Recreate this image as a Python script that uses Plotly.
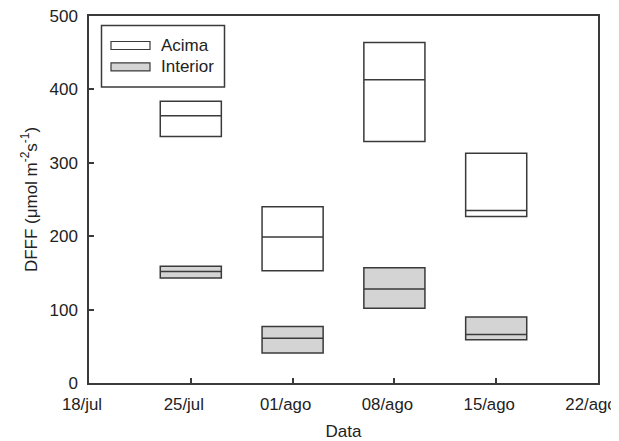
import plotly.graph_objects as go

dates = ["2000-07-25", "2000-08-01", "2000-08-08", "2000-08-15"]
series_names = ["Acima", "Interior"]
acima_q1 = [336, 153, 329, 227]
acima_med = [364, 199, 413, 235]
acima_q3 = [384, 240, 464, 313]
interior_q1 = [143, 41, 102, 59]
interior_med = [152, 61, 128, 66]
interior_q3 = [159, 77, 157, 90]
tick_vals = ["2000-07-18", "2000-07-25", "2000-08-01", "2000-08-08", "2000-08-15", "2000-08-22"]
tick_text = ["18/jul", "25/jul", "01/ago", "08/ago", "15/ago", "22/ago"]

LINE = "#3a3a3a"
FILL_I = "#d4d4d4"
BOX_W = 4.2 * 86400000

fig = go.Figure()
for name, q1, med, q3, fill in [
    (series_names[0], acima_q1, acima_med, acima_q3, "white"),
    (series_names[1], interior_q1, interior_med, interior_q3, FILL_I),
]:
    fig.add_trace(go.Box(
        name=name, x=dates, q1=q1, median=med, q3=q3,
        lowerfence=q1, upperfence=q3,
        fillcolor=fill, line=dict(color=LINE, width=1.5),
        width=BOX_W, whiskerwidth=0, boxpoints=False,
        showlegend=False, hoverinfo="skip",
    ))

font = "Liberation Sans, Arial, sans-serif"
FS = 17
# the page body has an 8px margin, so the figure is offset by (8, 8)
fig.update_layout(
    width=611, height=433, autosize=False,
    margin=dict(l=81, r=21, t=7.5, b=58.3, pad=0),
    paper_bgcolor="white", plot_bgcolor="white",
    boxmode="overlay",
    font=dict(family=font, size=FS, color="#222"),
    xaxis=dict(
        type="date", range=["2000-07-18", "2000-08-22"],
        tickvals=tick_vals, ticktext=tick_text,
        ticks="inside", ticklen=5, tickcolor=LINE, tickwidth=1.5,
        showline=True, linecolor=LINE, linewidth=1.5, mirror=True,
        showgrid=False, zeroline=False, automargin=False,
        ticklabeloverflow="allow", ticklabelstandoff=5, ticklabelshift=-7,
        title=dict(text="Data", font=dict(size=FS), standoff=16),
        tickfont=dict(size=16.8),
    ),
    yaxis=dict(
        range=[0, 500], tickvals=[0, 100, 200, 300, 400, 500],
        ticks="inside", ticklen=5, tickcolor=LINE, tickwidth=1.5,
        showline=True, linecolor=LINE, linewidth=1.5, mirror=True,
        showgrid=False, zeroline=False, automargin=False,
        ticklabeloverflow="allow", ticklabelstandoff=6,
        title=dict(text="DFFF (μmol m<sup>-2</sup>s<sup>-1</sup>)", font=dict(size=FS), standoff=8),
        tickfont=dict(size=FS),
    ),
)

# legend drawn manually to match the reference's wide swatches
# (coordinates given in viewport pixels of the plot frame: 89..598 x, 15.5..382.7 y)
def px_x(p):
    return (p - 89) / (598 - 89)

def px_y(p):
    return (382.7 - p) / (382.7 - 15.5)

fig.add_shape(type="rect", xref="paper", yref="paper",
              x0=px_x(101.5), x1=px_x(224.5), y0=px_y(86.5), y1=px_y(25),
              line=dict(color=LINE, width=1.5), fillcolor="white")
for i, (name, fill) in enumerate(zip(series_names, ["white", FILL_I])):
    yc = 45 + i * 21.5
    fig.add_shape(type="rect", xref="paper", yref="paper",
                  x0=px_x(111), x1=px_x(150), y0=px_y(yc + 4), y1=px_y(yc - 4),
                  line=dict(color=LINE, width=1.2), fillcolor=fill)
    fig.add_annotation(xref="paper", yref="paper", x=px_x(159), y=px_y(yc),
                       text=name, showarrow=False, xanchor="left", yanchor="middle",
                       font=dict(size=FS, family=font, color="#222"))

fig.write_html("out.html")
